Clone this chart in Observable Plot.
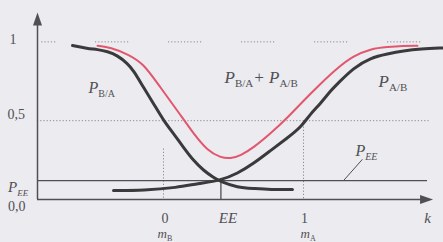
<!DOCTYPE html>
<html><head><meta charset="utf-8">
<script src="https://cdn.jsdelivr.net/npm/d3@7"></script>
<script src="https://cdn.jsdelivr.net/npm/@observablehq/plot@0.6"></script>
<style>
html,body{margin:0;padding:0;background:#ecebf0;font-family:'Liberation Serif',serif;}
#chart{width:443px;height:242px;overflow:hidden;}
svg{display:block;}
#chart text{font-family:'Liberation Serif','DejaVu Serif',serif;}
</style></head><body><div id="chart"></div>
<script>
// ---- data ----
const kBA = [-0.65,-0.543,-0.471,-0.4,-0.329,-0.257,-0.214,-0.143,-0.071,0,0.071,0.143,0.214,0.286,0.357,0.407,0.529,0.643,0.764,0.921];
const pBA = [0.977,0.958,0.952,0.939,0.914,0.863,0.819,0.711,0.609,0.501,0.419,0.33,0.247,0.184,0.14,0.114,0.076,0.07,0.063,0.063];

const kAB = [-0.357,-0.143,0.1,0.243,0.407,0.529,0.643,0.764,0.886,0.979,1.05,1.121,1.193,1.243,1.357,1.479,1.6,1.714,1.836,2.0];
const pAB = [0.057,0.057,0.076,0.101,0.12,0.165,0.228,0.31,0.392,0.456,0.544,0.608,0.69,0.734,0.835,0.899,0.924,0.943,0.956,0.962];

const kSum = [-0.471,-0.379,-0.25,-0.143,-0.021,0.1,0.214,0.314,0.407,0.479,0.55,0.643,0.764,0.886,1.0,1.121,1.243,1.357,1.479,1.6,1.714,1.814];
const pSum = [0.975,0.965,0.92,0.863,0.709,0.563,0.418,0.31,0.266,0.259,0.278,0.329,0.418,0.519,0.627,0.734,0.835,0.911,0.956,0.968,0.975,0.975];

const pEE = 0.12;      // equal-error probability level
const kEE = 0.41;      // equal-error point on k axis

const yTickValues = [1, 0.5, pEE, 0];
const yTickLabels = ["1", "0,5", "P_[EE]", "0,0"];
const xTickValues = [0, kEE, 1];
const xTickLabels = ["0", "EE", "1"];
const xAxisName = "k";
const massLabels = ["m_{B}", "m_{A}"];
const curveNames = ["P_{B/A}", "P_{B/A}+ P_{A/B}", "P_{A/B}", "P_[EE]"];

// ---- layout ----
const xMin = -0.9, xMax = 2.0, yMax = 1.18;
const axisEndX = 1.88, axisEndY = 1.14;
const ink = "#505054", curveInk = "#3a3a3c", red = "#e2566e", dotInk = "#8a8a8e";
const serif = "'Liberation Serif', 'DejaVu Serif', serif";
// dotted line printed in broken runs (dots for ~35px, gap ~40px)
const brokenDots = Array(10).fill("1.2,2").join(",") + ",1.2,39.8";

const zip = (a, b) => a.map((k, i) => ({k, p: b[i]}));

const up = {draw(c){ c.moveTo(0,-6.5); c.lineTo(4.5,6.5); c.lineTo(-4.5,6.5); c.closePath(); }};
const right = {draw(c){ c.moveTo(6.5,0); c.lineTo(-6.5,-4.5); c.lineTo(-6.5,4.5); c.closePath(); }};

function lbl(t, x, y, o = {}) {
  return Plot.text([{x, y, t}], {
    x: "x", y: "y", text: "t",
    textAnchor: o.anchor || "start",
    lineAnchor: "bottom",
    dx: o.dx || 0, dy: o.dy || 0,
    fontSize: o.size || 14,
    fontStyle: o.style || "normal",
    fontFamily: serif,
    fill: ink
  });
}

const marks = [
  // dotted guides
  Plot.ruleY([1], {x1: -0.88, x2: 1.91, stroke: dotInk, strokeDasharray: brokenDots, strokeDashoffset: 17.8, strokeWidth: 1}),
  Plot.ruleY([0.5], {x1: xMin, x2: 1.91, stroke: dotInk, strokeDasharray: "1.2,2", strokeWidth: 1}),
  Plot.ruleX([0], {y1: 0.32, y2: 0, stroke: dotInk, strokeDasharray: "1.2,2", strokeWidth: 1}),
  Plot.ruleX([1], {y1: 0.5, y2: 0, stroke: dotInk, strokeDasharray: "1.2,2", strokeWidth: 1}),
  // axes
  Plot.ruleX([xMin], {y1: 0, y2: axisEndY, stroke: ink, strokeWidth: 1.5}),
  Plot.ruleY([0], {x1: xMin, x2: axisEndX, stroke: ink, strokeWidth: 1.5}),
  Plot.dot([{x: xMin, y: 1.145}], {x: "x", y: "y", symbol: up, fill: ink, stroke: "none"}),
  Plot.dot([{x: 1.879, y: 0}], {x: "x", y: "y", symbol: right, fill: ink, stroke: "none"}),
  // P_EE level and EE tick
  Plot.ruleY([pEE], {x1: xMin, x2: 1.886, stroke: ink, strokeWidth: 1.3}),
  Plot.ruleX([kEE], {y1: 0, y2: pEE, stroke: ink, strokeWidth: 1.3}),
  Plot.link([{x1: 1.286, y1: pEE, x2: 1.421, y2: 0.255}], {x1: "x1", y1: "y1", x2: "x2", y2: "y2", stroke: ink, strokeWidth: 1}),
  // curves
  Plot.line(zip(kSum, pSum), {x: "k", y: "p", stroke: red, strokeWidth: 2, curve: "basis"}),
  Plot.line(zip(kBA, pBA), {x: "k", y: "p", stroke: curveInk, strokeWidth: 3, curve: "basis"}),
  Plot.line(zip(kAB, pAB), {x: "k", y: "p", stroke: curveInk, strokeWidth: 3, curve: "basis"}),
  // y labels (left margin)
  lbl(yTickLabels[0], -1.1, yTickValues[0], {dy: 2, size: 14}),
  lbl(yTickLabels[1], -1.115, yTickValues[1], {dy: -2, size: 14}),
  lbl(yTickLabels[2], -1.11, yTickValues[2], {dy: 11, size: 15, style: "italic"}),
  lbl(yTickLabels[3], -1.11, yTickValues[3], {dy: 11, size: 14}),
  // x labels
  lbl(xTickLabels[0], xTickValues[0], 0, {anchor: "middle", dx: 1.5, dy: 23, size: 14}),
  lbl(xTickLabels[1], xTickValues[1], 0, {anchor: "middle", dx: 7, dy: 23, size: 15, style: "italic"}),
  lbl(xTickLabels[2], xTickValues[2], 0, {anchor: "middle", dx: 1, dy: 23, size: 14}),
  lbl(xAxisName, axisEndX, 0, {anchor: "middle", dx: 1, dy: 23, size: 15, style: "italic"}),
  lbl(massLabels[0], 0, 0, {dx: -6, dy: 38, size: 13, style: "italic"}),
  lbl(massLabels[1], 1, 0, {dx: -3, dy: 38, size: 13, style: "italic"}),
  // curve names
  lbl(curveNames[0], -0.536, 0.673, {size: 16, style: "italic"}),
  lbl(curveNames[1], 0.436, 0.742, {size: 17, style: "italic"}),
  lbl(curveNames[2], 1.536, 0.711, {size: 17, style: "italic"}),
  lbl(curveNames[3], 1.371, 0.279, {size: 16, style: "italic"})
];

const svg = Plot.plot({
  width: 443, height: 242,
  marginLeft: 37, marginRight: 0, marginTop: 13, marginBottom: 43,
  x: {domain: [xMin, xMax], axis: null},
  y: {domain: [0, yMax], axis: null},
  style: {background: "transparent", fontFamily: serif, overflow: "visible"},
  marks
});

// subscripts: _{...} upright, _[...] italic
svg.querySelectorAll("text").forEach(t => {
  const s = t.textContent;
  if (!/_[\{\[]/.test(s)) return;
  const g = t.closest("g");
  const base = parseFloat(g && g.getAttribute("font-size")) || 14;
  const subSize = Math.round(base * 0.62);
  const shift = Math.round(base * 0.26);
  const re = /_(?:\{([^}]*)\}|\[([^\]]*)\])/g;
  while (t.firstChild) t.removeChild(t.firstChild);
  const ns = "http://www.w3.org/2000/svg";
  let last = 0, shifted = false, m;
  const add = (txt, attrs) => {
    const sp = document.createElementNS(ns, "tspan");
    for (const [a, v] of Object.entries(attrs)) sp.setAttribute(a, v);
    sp.textContent = txt;
    t.appendChild(sp);
  };
  while ((m = re.exec(s))) {
    const before = s.slice(last, m.index);
    if (before) { add(before, shifted ? {dy: -shift} : {}); shifted = false; }
    const sub = m[1] != null ? m[1] : m[2];
    add(sub, {"font-size": subSize, "font-style": m[1] != null ? "normal" : "italic", dy: shift});
    shifted = true;
    last = re.lastIndex;
  }
  const rest = s.slice(last);
  if (rest) add(rest, shifted ? {dy: -shift} : {});
});

document.getElementById("chart").appendChild(svg);
</script>
</body></html>
